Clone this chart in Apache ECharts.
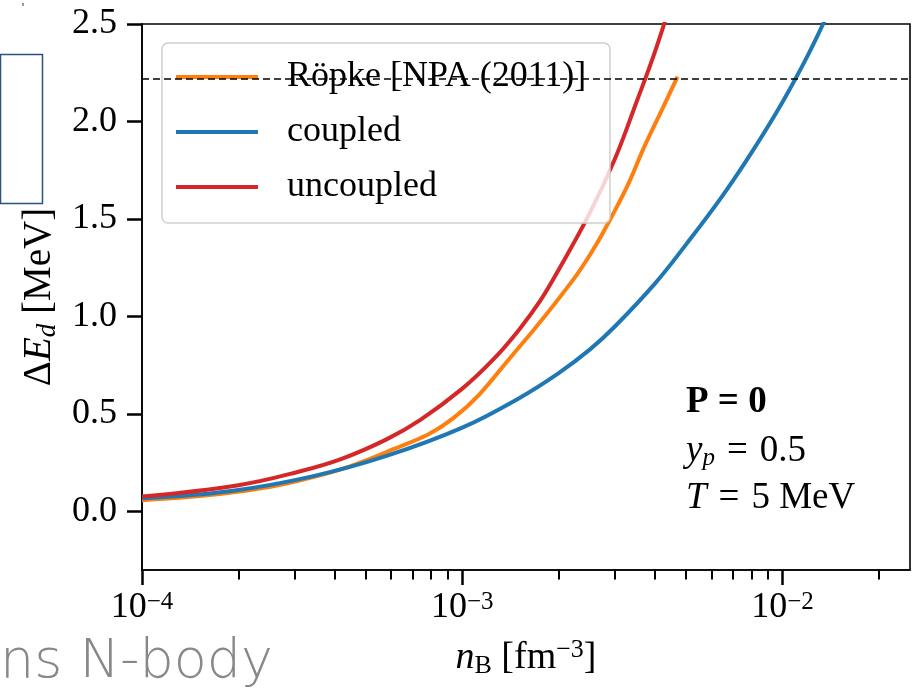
<!DOCTYPE html>
<html>
<head>
<meta charset="utf-8">
<script src="https://cdn.jsdelivr.net/npm/echarts@6/dist/echarts.min.js"></script>
<style>
html, body { margin: 0; padding: 0; background: #fff; }
#chart { width: 924px; height: 691px; }
</style>
</head>
<body>
<div id="chart"></div>
<script>
// values (n_B in fm^-3, Delta E_d in MeV)
var nRopke = [1.0e-4, 1.9e-4, 3.4e-4, 5.8e-4, 9.4e-4, 1.5e-3, 2.2e-3, 2.6e-3, 2.9e-3, 3.3e-3, 3.7e-3, 4.2e-3, 4.7e-3];
var eRopke = [0.058, 0.097, 0.175, 0.305, 0.48, 0.84, 1.18, 1.36, 1.50, 1.68, 1.87, 2.06, 2.23];

var nCoupled = [1.0e-4, 1.9e-4, 3.4e-4, 5.8e-4, 1.0e-3, 1.5e-3, 2.0e-3, 2.5e-3, 3.0e-3, 4.0e-3, 5.0e-3, 6.5e-3, 8.0e-3, 1.0e-2, 1.2e-2, 1.4e-2];
var eCoupled = [0.068, 0.105, 0.18, 0.285, 0.43, 0.58, 0.71, 0.83, 0.95, 1.17, 1.37, 1.62, 1.84, 2.10, 2.34, 2.57];

var nUncoupled = [1.0e-4, 2.0e-4, 3.1e-4, 4.2e-4, 5.8e-4, 7.4e-4, 1.0e-3, 1.25e-3, 1.5e-3, 1.75e-3, 2.0e-3, 2.5e-3, 3.0e-3, 3.5e-3, 4.0e-3, 4.5e-3];
var eUncoupled = [0.077, 0.135, 0.205, 0.27, 0.37, 0.47, 0.63, 0.78, 0.93, 1.08, 1.24, 1.53, 1.81, 2.10, 2.36, 2.62];

var seriesNames = ['Röpke [NPA (2011)]', 'coupled', 'uncoupled'];
var seriesColors = ['#ff7f0e', '#1f77b4', '#d62728'];
var bindingEnergy = 2.224;

var xMajorTicks = [1e-4, 1e-3, 1e-2];
var xMinorTicks = [2e-4, 3e-4, 4e-4, 5e-4, 6e-4, 7e-4, 8e-4, 9e-4,
                   2e-3, 3e-3, 4e-3, 5e-3, 6e-3, 7e-3, 8e-3, 9e-3, 2e-2];
var yTicks = [0, 0.5, 1.0, 1.5, 2.0, 2.5];

var FONT = 'Liberation Serif';

function pairs(xs, ys) {
  return xs.map(function (x, i) { return [x, ys[i]]; });
}

function curve(idx, xs, ys) {
  return {
    name: seriesNames[idx], type: 'line', xAxisIndex: 0,
    data: pairs(xs, ys),
    symbol: 'none', smooth: 0.4,
    itemStyle: { color: seriesColors[idx] },
    lineStyle: { color: seriesColors[idx], width: 4 }
  };
}

var chart = echarts.init(document.getElementById('chart'));

var ropke = curve(0, nRopke, eRopke);
ropke.markLine = {
  silent: true, symbol: ['none', 'none'],
  label: { show: false },
  lineStyle: { color: '#000', width: 1.6, type: [7, 4] },
  data: [{ yAxis: bindingEnergy }]
};

var option = {
  animation: false,
  backgroundColor: '#fff',
  grid: {
    left: 142, top: 24, right: 14, bottom: 121,
    show: true, borderColor: '#000', borderWidth: 1.6,
    outerBoundsMode: 'none'
  },
  legend: {
    orient: 'vertical', left: 162, top: 43,
    padding: [14, 22, 16, 14],
    itemGap: 15, itemWidth: 82, itemHeight: 4, icon: 'rect',
    backgroundColor: 'rgba(255,255,255,0.8)',
    borderColor: '#cfcfcf', borderWidth: 1.5, borderRadius: 6,
    textStyle: { fontFamily: FONT, fontSize: 36, color: '#000', lineHeight: 40, width: 301, padding: [0, 0, 0, 24] },
    data: seriesNames
  },
  xAxis: [
    {
      type: 'log', logBase: 10, min: 1e-4, max: 0.025,
      axisLine: { show: true, onZero: false, lineStyle: { color: '#000', width: 1.6 } },
      axisTick: { show: true, customValues: xMajorTicks, length: 15, lineStyle: { color: '#000', width: 2.5 } },
      axisLabel: {
        customValues: xMajorTicks, margin: 20,
        formatter: function (v) {
          var e = Math.round(Math.log10(v));
          return '{b|10}{s|\u2212' + Math.abs(e) + '}';
        },
        rich: {
          b: { fontFamily: FONT, fontSize: 36, lineHeight: 35, color: '#000' },
          s: { fontFamily: FONT, fontSize: 25, lineHeight: 18, verticalAlign: 'top', color: '#000' }
        }
      },
      splitLine: { show: false },
      name: '{i|n}{sub|B}{n| [fm}{sup|\u22123}{n|]}',
      nameLocation: 'middle', nameGap: 67,
      nameTextStyle: {
        rich: {
          i: { fontFamily: FONT, fontStyle: 'italic', fontSize: 38, lineHeight: 42, color: '#000' },
          n: { fontFamily: FONT, fontSize: 38, lineHeight: 42, color: '#000' },
          sub: { fontFamily: FONT, fontSize: 26, lineHeight: 24, verticalAlign: 'bottom', color: '#000' },
          sup: { fontFamily: FONT, fontSize: 26, lineHeight: 24, verticalAlign: 'top', color: '#000' }
        }
      }
    },
    {
      type: 'log', logBase: 10, min: 1e-4, max: 0.025, position: 'bottom',
      axisLine: { show: false, onZero: false },
      axisTick: { show: true, customValues: xMinorTicks, length: 9.5, lineStyle: { color: '#000', width: 2 } },
      axisLabel: { show: false },
      splitLine: { show: false }
    }
  ],
  yAxis: {
    type: 'value', min: -0.3, max: 2.5,
    axisLine: { show: true, onZero: false, lineStyle: { color: '#000', width: 1.6 } },
    axisTick: { show: true, customValues: yTicks, length: 15, lineStyle: { color: '#000', width: 2.5 } },
    axisLabel: {
      customValues: yTicks, margin: 25,
      fontFamily: FONT, fontSize: 36, color: '#000',
      formatter: function (v) { return v.toFixed(1); }
    },
    splitLine: { show: false },
    name: '{n|\u0394}{i|E}{sub|d}{n| [MeV]}',
    nameLocation: 'middle', nameRotate: 90, nameGap: 70,
    nameTextStyle: {
      rich: {
        i: { fontFamily: FONT, fontStyle: 'italic', fontSize: 39, lineHeight: 42, color: '#000' },
        n: { fontFamily: FONT, fontSize: 39, lineHeight: 42, color: '#000' },
        sub: { fontFamily: FONT, fontStyle: 'italic', fontSize: 27, lineHeight: 24, verticalAlign: 'bottom', color: '#000' }
      }
    }
  },
  series: [
    ropke,
    curve(1, nCoupled, eCoupled),
    curve(2, nUncoupled, eUncoupled)
  ],
  graphic: [
    {
      type: 'rect', left: -2, top: 52, z: 10,
      shape: { width: 42, height: 149 },
      style: { fill: 'none', stroke: '#2b4f86', lineWidth: 1.5 }
    },
    {
      type: 'rect', x: 22, y: 3, z: 10,
      shape: { width: 2, height: 3 },
      style: { fill: '#999' }
    },
    {
      type: 'text', x: 0, y: 663, z: 10,
      style: {
        text: 'ns N-body', fontFamily: 'DejaVu Sans', fontWeight: 200, fontSize: 54,
        fill: '#888', verticalAlign: 'middle', align: 'left'
      }
    },
    {
      type: 'text', x: 686, y: 402, z: 10,
      style: {
        text: 'P = 0', fontFamily: FONT, fontWeight: 'bold', fontSize: 37,
        fill: '#000', verticalAlign: 'middle', align: 'left'
      }
    },
    {
      type: 'text', x: 686, y: 451, z: 10,
      style: {
        text: '{i|y}{s|p}{eq|=}{n|0.5}',
        verticalAlign: 'middle', align: 'left',
        rich: {
          i: { fontFamily: FONT, fontStyle: 'italic', fontSize: 37, lineHeight: 40, fill: '#000' },
          s: { fontFamily: FONT, fontStyle: 'italic', fontSize: 25, lineHeight: 24, verticalAlign: 'bottom', fill: '#000' },
          eq: { fontFamily: FONT, fontSize: 37, lineHeight: 40, padding: [0, 12, 0, 12], fill: '#000' },
          n: { fontFamily: FONT, fontSize: 37, lineHeight: 40, fill: '#000' }
        }
      }
    },
    {
      type: 'text', x: 686, y: 498, z: 10,
      style: {
        text: '{i|T}{eq|=}{n|5 MeV}',
        verticalAlign: 'middle', align: 'left',
        rich: {
          i: { fontFamily: FONT, fontStyle: 'italic', fontSize: 37, lineHeight: 40, fill: '#000' },
          eq: { fontFamily: FONT, fontSize: 37, lineHeight: 40, padding: [0, 12, 0, 12], fill: '#000' },
          n: { fontFamily: FONT, fontSize: 37, lineHeight: 40, fill: '#000' }
        }
      }
    }
  ]
};

chart.setOption(option);
</script>
</body>
</html>
